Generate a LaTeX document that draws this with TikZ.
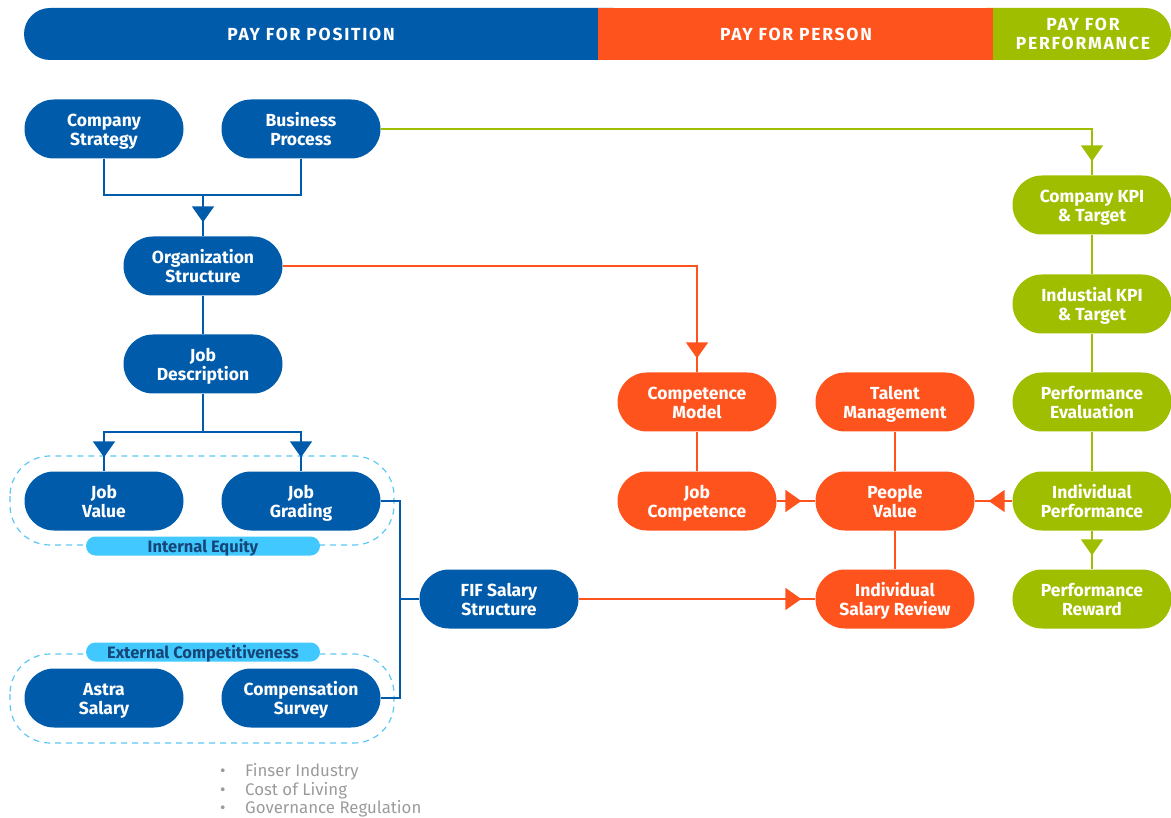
\documentclass[tikz,border=0pt]{standalone}
\usepackage{fontspec}
\setmainfont{Fira Sans}
\usetikzlibrary{arrows.meta,decorations.markings,calc}
\definecolor{cblue}{RGB}{0,91,170}
\definecolor{corange}{RGB}{255,83,30}
\definecolor{cgreen}{RGB}{160,190,0}
\definecolor{clabel}{RGB}{64,200,255}
\definecolor{clabeltext}{RGB}{22,70,120}
\definecolor{cdash}{RGB}{90,200,245}
\definecolor{cgray}{RGB}{155,155,155}
\begin{document}
\begin{tikzpicture}[x=1pt,y=-1pt,
  pill/.style={rectangle,rounded corners=29.5pt,minimum width=159pt,minimum height=59pt,inner sep=0pt,
    text=white,align=center,text height=33.4pt,text depth=0pt,font=\fontsize{17.5}{19}\selectfont\bfseries},
  bpill/.style={pill,fill=cblue},
  opill/.style={pill,fill=corange},
  gpill/.style={pill,fill=cgreen},
  tag/.style={rectangle,rounded corners=9.5pt,minimum width=234pt,minimum height=19pt,inner sep=0pt,
    fill=clabel,text=clabeltext,text height=12.5pt,text depth=0.5pt,font=\fontsize{16.5}{18}\selectfont\bfseries},
  conn/.style={line width=2pt},
  arrowend/.style={postaction={decorate},decoration={markings,
    mark=at position -14pt with {\arrow{Triangle[length=16pt,width=22pt]}}}},
  grp/.style={draw=cdash,line width=1.2pt,dash pattern=on 6pt off 5pt,rounded corners=40pt},
  headtext/.style={text=white,align=center,font=\fontsize{17.5}{19}\selectfont\bfseries\addfontfeature{LetterSpace=10}},
  bullet/.style={anchor=base west,inner sep=0pt,text=cgray,font=\fontsize{16.8}{19}\selectfont}
]
\useasboundingbox (0,0) rectangle (1171,818);
% header
\fill[cgreen,rounded corners=26pt] (960,8) rectangle (1171,60);
\fill[corange] (598,8) rectangle (993,60);
\fill[cblue,rounded corners=26pt] (24,8) rectangle (640,60);
\fill[cblue] (560,8) rectangle (598,60);
\fill[corange] (598,8) rectangle (700,60);
\node[headtext] (h1) at (311,34) {PAY FOR POSITION};
\node[headtext] (h2) at (796,34) {PAY FOR PERSON};
\node[headtext] (h3) at (1083,34) {PAY FOR\\PERFORMANCE};
% groups
\draw[grp] (10,456) rectangle (394,545);
\draw[grp] (10,654) rectangle (394,743);
% nodes
\node[bpill] (cs) at (104,129) {Company\\Strategy};
\node[bpill] (bp) at (301,129) {Business\\Process};
\node[bpill] (org) at (203,266) {Organization\\Structure};
\node[bpill] (jd) at (203,364) {Job\\Description};
\node[bpill] (jv) at (104,501) {Job\\Value};
\node[bpill] (jg) at (301,501) {Job\\Grading};
\node[bpill] (as) at (104,698) {Astra\\Salary};
\node[bpill] (comp) at (301,698) {Compensation\\Survey};
\node[bpill] (fif) at (499,599) {FIF Salary\\Structure};
\node[tag] (ie) at (203,546) {Internal Equity};
\node[tag] (ec) at (203,652) {External Competitiveness};
\node[opill] (cm) at (697,402) {Competence\\Model};
\node[opill] (tm) at (895,402) {Talent\\Management};
\node[opill] (jc) at (697,501) {Job\\Competence};
\node[opill] (pv) at (895,501) {People\\Value};
\node[opill] (isr) at (895,599) {Individual\\Salary Review};
\node[gpill] (kpi) at (1092,205) {Company KPI\\\& Target};
\node[gpill] (ikpi) at (1092,304) {Industial KPI\\\& Target};
\node[gpill] (pe) at (1092,402) {Performance\\Evaluation};
\node[gpill] (ip) at (1092,501) {Individual\\Performance};
\node[gpill] (pr) at (1092,599) {Performance\\Reward};
\node[bullet] (b1) at (220,776.5) {\makebox[25pt][l]{•}Finser Industry};
\node[bullet] (b2) at (220,795.5) {\makebox[25pt][l]{•}Cost of Living};
\node[bullet] (b3) at (220,813.5) {\makebox[25pt][l]{•}Governance Regulation};
% connectors blue
\coordinate (j1) at (203,195);
\coordinate (j2) at (203,432);
\coordinate (j3) at (400,599);
\draw[conn,cblue] (cs.south) |- (j1) -| (bp.south);
\draw[conn,cblue,arrowend] (j1) -- (org.north);
\draw[conn,cblue] (org.south) -- (jd.north);
\draw[conn,cblue] (jd.south) -- (j2);
\draw[conn,cblue,arrowend] (j2) -| (jv.north);
\draw[conn,cblue,arrowend] (j2) -| (jg.north);
\draw[conn,cblue] (jg.east) -| (j3) |- (comp.east);
\draw[conn,cblue] (j3) -- (fif.west);
% orange
\draw[conn,corange,arrowend] (org.east) -| (cm.north);
\draw[conn,corange] (cm.south) -- (jc.north);
\draw[conn,corange] (tm.south) -- (pv.north);
\draw[conn,corange] (pv.south) -- (isr.north);
\draw[conn,corange,arrowend] (jc.east) -- (pv.west);
\draw[conn,corange,arrowend] (ip.west) -- (pv.east);
\draw[conn,corange,arrowend] (fif.east) -- (isr.west);
% green
\draw[conn,cgreen,arrowend] (bp.east) -| (kpi.north);
\draw[conn,cgreen] (kpi.south) -- (ikpi.north);
\draw[conn,cgreen] (ikpi.south) -- (pe.north);
\draw[conn,cgreen] (pe.south) -- (ip.north);
\draw[conn,cgreen,arrowend] (ip.south) -- (pr.north);
\end{tikzpicture}
\end{document}
